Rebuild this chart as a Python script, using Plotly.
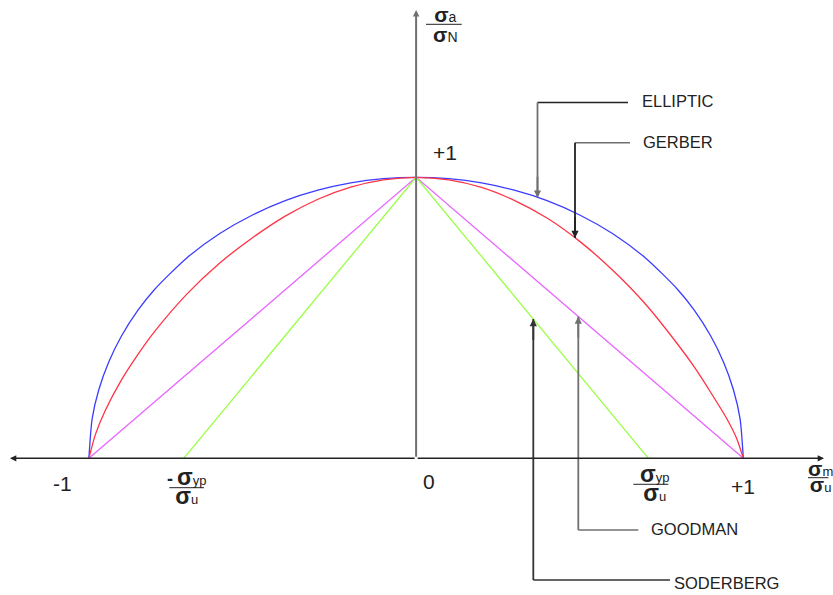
import numpy as np
import plotly.graph_objects as go

# Normalised stress coordinates: x = sigma_m / sigma_u, y = sigma_a / sigma_N
ELLIPTIC_X = [-1.0, -0.99, -0.97, -0.94, -0.9, -0.85, -0.8, -0.7, -0.6, -0.5, -0.4, -0.3, -0.2, -0.1,
              0.0, 0.1, 0.2, 0.3, 0.4, 0.5, 0.6, 0.7, 0.8, 0.85, 0.9, 0.94, 0.97, 0.99, 1.0]
ELLIPTIC_Y = [0.0, 0.141, 0.243, 0.341, 0.436, 0.527, 0.6, 0.714, 0.8, 0.866, 0.917, 0.954, 0.98, 0.995,
              1.0, 0.995, 0.98, 0.954, 0.917, 0.866, 0.8, 0.714, 0.6, 0.527, 0.436, 0.341, 0.243, 0.141, 0.0]

GERBER_X = [-1.0, -0.98, -0.95, -0.9, -0.85, -0.8, -0.7, -0.6, -0.5, -0.4, -0.3, -0.2, -0.1,
            0.0, 0.1, 0.2, 0.3, 0.4, 0.5, 0.6, 0.7, 0.8, 0.85, 0.9, 0.95, 0.98, 1.0]
GERBER_Y = [0.0, 0.085, 0.17, 0.28, 0.37, 0.45, 0.585, 0.695, 0.785, 0.862, 0.922, 0.965, 0.991,
            1.0, 0.991, 0.964, 0.918, 0.855, 0.772, 0.67, 0.55, 0.405, 0.325, 0.235, 0.14, 0.07, 0.0]

GOODMAN_X = [-1.0, 0.0, 1.0]
GOODMAN_Y = [0.0, 1.0, 0.0]

SYP_OVER_SU = 0.71  # yield / ultimate ratio
SODERBERG_X = [-SYP_OVER_SU, 0.0, SYP_OVER_SU]
SODERBERG_Y = [0.0, 1.0, 0.0]

CRITERIA = ["ELLIPTIC", "GERBER", "GOODMAN", "SODERBERG"]
TICK_TEXT = ["-1", "0", "+1"]

BLUE, RED, MAGENTA, GREEN = "#3c3cff", "#ff3344", "#e866ff", "#99ff44"
INK, GREY = "#222222", "#707070"
FONT = "Liberation Sans, Arial, sans-serif"

fig = go.Figure()

for xs, ys, col in [(ELLIPTIC_X, ELLIPTIC_Y, BLUE), (GERBER_X, GERBER_Y, RED),
                    (GOODMAN_X, GOODMAN_Y, MAGENTA), (SODERBERG_X, SODERBERG_Y, GREEN)]:
    fig.add_trace(go.Scatter(x=xs, y=ys, mode="lines", hoverinfo="skip",
                             line=dict(color=col, width=1.3,
                                       shape="spline" if len(xs) > 3 else "linear",
                                       smoothing=0.7)))


def arrow(tail, head, color, width, size):
    fig.add_annotation(x=head[0], y=head[1], ax=tail[0], ay=tail[1],
                       xref="x", yref="y", axref="x", ayref="y", text="",
                       showarrow=True, arrowhead=2, arrowsize=size,
                       arrowwidth=width, arrowcolor=color)


def label(x, y, text, size, anchor="center", color=INK):
    fig.add_annotation(x=x, y=y, xref="x", yref="y", text=text, showarrow=False,
                       xanchor=anchor, yanchor="middle", align="center",
                       font=dict(family=FONT, size=size, color=color))


# coordinate axes
arrow((0, 0), (1.2466, 0), INK, 1.4, 0.9)
arrow((0, 0), (-1.2411, 0), INK, 1.4, 0.9)
arrow((0, 0), (0, 1.5954), GREY, 2.0, 0.65)

# numeric labels on the axes
label(-1.0822, -0.0879, TICK_TEXT[0], 21)
label(0.0394, -0.0808, TICK_TEXT[1], 21)
label(0.9991, -0.0986, TICK_TEXT[2], 21)
label(0.0868, 1.0883, TICK_TEXT[2], 21)


def frac(num, den, x, y, bar, line_px, sig=23, sub=13, prefix=""):
    """Stacked sigma ratio: numerator over denominator with a rule between."""
    s = f"<span style='font-size:{sig}px'><b>σ</b></span>"
    top = f"{prefix}{s}<span style='font-size:{sub}px'>{num}</span>"
    bottom = f"{s}<span style='font-size:{sub}px'>{den}</span>"
    label(x, y, top + "<br>" + bottom, line_px / 1.3)
    fig.add_shape(type="line", xref="x", yref="y", x0=bar[0], x1=bar[1], y0=bar[2], y1=bar[2],
                  line=dict(color=INK, width=1))


frac("yp", "u", 0.7275, -0.0907, (0.6638, 0.7708, -0.0925), 19)
frac("yp", "u", -0.7010, -0.1007, (-0.7543, -0.6482, -0.1046), 19.2,
     prefix="<span style='font-size:18px'><b>-</b></span> ")
frac("m", "u", 1.2360, -0.0665, (1.1977, 1.2598, -0.0690), 16.2, sig=21)
frac("a", "N", 0.0883, 1.5434, (0.0303, 0.1394, 1.5445), 19.5, sig=21, sub=14)

# call-out leaders pointing at each criterion
lead_x = [0.371, 0.4856, 0.4957, 0.3582]
lead_y = [1.2662, 1.1231, -0.2552, -0.4331]
lead_end = [0.6476, 0.6537, 0.6791, 0.7760]
text_pos = [(0.6834, 1.2708), (0.6865, 1.1267), (0.7118, -0.2516), (0.7831, -0.4420)]
tips = [float(np.interp(lead_x[0], ELLIPTIC_X, ELLIPTIC_Y)),
        float(np.interp(lead_x[1], GERBER_X, GERBER_Y)),
        float(np.interp(lead_x[2], GOODMAN_X, GOODMAN_Y)),
        float(np.interp(lead_x[3], SODERBERG_X, SODERBERG_Y))]
h_cols = [INK, GREY, GREY, "#333333"]
v_cols = [GREY, INK, GREY, "#333333"]

for i, name in enumerate(CRITERIA):
    x, y, tip = lead_x[i], lead_y[i], tips[i]
    fig.add_trace(go.Scatter(x=[lead_end[i], x], y=[y, y], mode="lines", hoverinfo="skip",
                             line=dict(color=h_cols[i], width=1.6)))
    fig.add_trace(go.Scatter(x=[x, x], y=[y, tip], mode="lines", hoverinfo="skip",
                             line=dict(color=v_cols[i], width=1.8)))
    direction = 1 if y > tip else -1
    arrow((x, tip + direction * 0.08), (x, tip), v_cols[i], 1.8, 0.8)
    label(text_pos[i][0], text_pos[i][1], name, 16.5, anchor="left")

fig.update_layout(
    width=833, height=595, autosize=False,
    margin=dict(l=0, r=0, t=0, b=0, pad=0),
    paper_bgcolor="white", plot_bgcolor="white",
    showlegend=False,
    xaxis=dict(range=[-1.2717, 1.2741], visible=False, fixedrange=True),
    yaxis=dict(range=[-0.4865, 1.6310], visible=False, fixedrange=True),
)

fig.write_html("out.html")
